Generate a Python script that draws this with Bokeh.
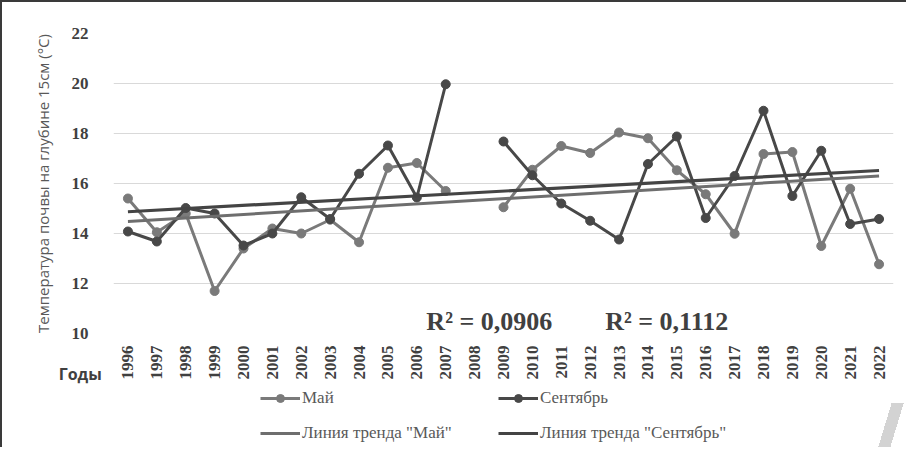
import numpy as np
from bokeh.plotting import figure
from bokeh.layouts import column
from bokeh.models import Range1d, FixedTicker, Legend, LegendItem, Label
from bokeh.embed import file_html
from bokeh.resources import INLINE

nan = float("nan")
years = list(range(1996, 2023))
may = [15.4, 14.05, 14.8, 11.7, 13.4, 14.2, 14.0, 14.55, 13.65, 16.63, 16.82, 15.7, nan,
       15.05, 16.55, 17.5, 17.22, 18.04, 17.81, 16.53, 15.57, 13.99, 17.18, 17.26, 13.5, 15.79, 12.77]
sep = [14.08, 13.68, 15.02, 14.8, 13.52, 14.0, 15.45, 14.58, 16.39, 17.52, 15.44, 19.97, nan,
       17.68, 16.33, 15.2, 14.51, 13.76, 16.78, 17.88, 14.62, 16.3, 18.91, 15.5, 17.31, 14.38, 14.58]
trend_years = [1996, 2022]
trend_may = [14.48, 16.30]
trend_sep = [14.87, 16.52]
y_ticks = [10, 12, 14, 16, 18, 20, 22]
r2_labels = ["R\u00b2 = 0,0906", "R\u00b2 = 0,1112"]
legend_labels = ["Май", "Сентябрь", "Линия тренда \"Май\"", "Линия тренда \"Сентябрь\""]

C_MAY = "#7a7a7a"
C_SEP = "#484848"
C_TMAY = "#6e6e6e"
C_TSEP = "#444444"

p = figure(width=904, height=385, output_backend="svg", toolbar_location=None,
           x_range=Range1d(1995.5, 2022.5), y_range=Range1d(10, 22),
           min_border_left=111, min_border_right=13, min_border_top=31, min_border_bottom=51)
p.outline_line_color = None
p.background_fill_color = "white"
p.border_fill_color = None

p.xgrid.grid_line_color = None
p.ygrid.grid_line_color = "#d9d9d9"
p.ygrid.grid_line_width = 1

xa = p.xaxis[0]
xa.ticker = FixedTicker(ticks=years)
xa.major_label_orientation = np.pi / 2
xa.axis_line_color = None
xa.major_tick_line_color = None
xa.minor_tick_line_color = None
xa.major_label_text_font = "Liberation Serif"
xa.major_label_text_font_style = "bold"
xa.major_label_text_font_size = "17px"
xa.major_label_text_color = "#404040"
xa.major_label_standoff = 6
xa.axis_label = "Годы" + "\u00a0" * 16
xa.axis_label_align = "start"
xa.axis_label_standoff = -20
xa.axis_label_text_font = "Open Sans"
xa.axis_label_text_font_style = "bold"
xa.axis_label_text_font_size = "16px"
xa.axis_label_text_color = "#404040"

ya = p.yaxis[0]
ya.ticker = FixedTicker(ticks=y_ticks)
ya.axis_line_color = None
ya.major_tick_line_color = None
ya.minor_tick_line_color = None
ya.major_label_text_font = "Liberation Serif"
ya.major_label_text_font_style = "bold"
ya.major_label_text_font_size = "17px"
ya.major_label_text_color = "#404040"
ya.major_label_standoff = 19
ya.axis_label = "Температура почвы на глубине 15см (°C)"
ya.axis_label_text_font = "Open Sans"
ya.axis_label_text_font_style = "normal"
ya.axis_label_text_font_size = "15px"
ya.axis_label_text_color = "#595959"
ya.axis_label_standoff = 16

p.line(years, may, line_color=C_MAY, line_width=3)
p.scatter(years, may, size=9, fill_color=C_MAY, line_color=C_MAY)
p.line(years, sep, line_color=C_SEP, line_width=3)
p.scatter(years, sep, size=9, fill_color=C_SEP, line_color=C_SEP)
p.line(trend_years, trend_may, line_color=C_TMAY, line_width=3)
p.line(trend_years, trend_sep, line_color=C_TSEP, line_width=3.2)

for txt, xv in zip(r2_labels, [2006.33, 2012.52]):
    p.add_layout(Label(x=xv, y=10.475, text=txt, text_font="Liberation Serif", text_font_style="bold",
                       text_font_size="26px", text_color="#404040", text_baseline="alphabetic",
                       text_align="left"))

# legend strip below the chart (its series sit outside its ranges, only the legend shows)
q = figure(width=904, height=60, output_backend="svg", toolbar_location=None,
           x_range=Range1d(0, 1), y_range=Range1d(0, 1), x_axis_type=None, y_axis_type=None,
           min_border_left=0, min_border_right=0, min_border_top=0, min_border_bottom=0)
q.outline_line_color = None
q.background_fill_color = None
q.border_fill_color = None
q.grid.grid_line_color = None
g_may = q.line(years, may, line_color=C_MAY, line_width=3)
m_may = q.scatter(years, may, size=9, fill_color=C_MAY, line_color=C_MAY)
g_sep = q.line(years, sep, line_color=C_SEP, line_width=3)
m_sep = q.scatter(years, sep, size=9, fill_color=C_SEP, line_color=C_SEP)
g_tmay = q.line(trend_years, trend_may, line_color=C_TMAY, line_width=3)
g_tsep = q.line(trend_years, trend_sep, line_color=C_TSEP, line_width=3.2)

legend = Legend(items=[
    LegendItem(label=legend_labels[0], renderers=[g_may, m_may]),
    LegendItem(label=legend_labels[2], renderers=[g_tmay]),
    LegendItem(label=legend_labels[1], renderers=[g_sep, m_sep]),
    LegendItem(label=legend_labels[3], renderers=[g_tsep]),
], orientation="vertical", nrows=2, location=(147, 4))
legend.glyph_width = 40
legend.glyph_height = 20
legend.label_width = 181
legend.label_height = 20
legend.label_standoff = 2
legend.spacing = 15
legend.padding = 0
legend.margin = 0
legend.border_line_color = None
legend.background_fill_alpha = 0
legend.label_text_font = "Liberation Serif"
legend.label_text_font_size = "17px"
legend.label_text_color = "#595959"
q.add_layout(legend, "center")

layout = column(p, q, spacing=0)
layout.styles = {
    "border-top": "2px solid #3a3a3a",
    "border-left": "2px solid #3a3a3a",
    "background": "linear-gradient(106.9deg, transparent 36%, #d3d3d3 36%, #d3d3d3 64%, transparent 64%) right bottom / 30px 44px no-repeat, white",
}

open("out.html", "w").write(file_html(layout, INLINE))
